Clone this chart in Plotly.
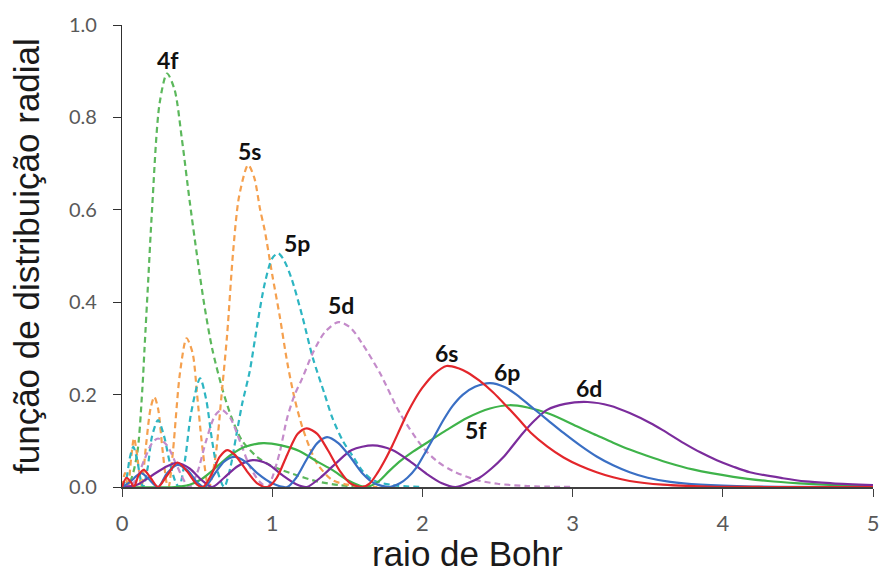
import plotly.graph_objects as go

# ---- data (x in Bohr radii, y = radial distribution) ----
x_4f = [0, 0.05, 0.1, 0.135, 0.15, 0.175, 0.2, 0.25, 0.3, 0.35, 0.4, 0.45, 0.5, 0.55, 0.6, 0.67, 0.73, 0.8, 0.9, 1.0, 1.14, 1.3, 1.45, 1.6]
y_4f = [0, 0.01, 0.07, 0.21, 0.3, 0.45, 0.6, 0.83, 0.895, 0.86, 0.75, 0.62, 0.5, 0.39, 0.3, 0.21, 0.15, 0.1, 0.065, 0.045, 0.028, 0.012, 0.004, 0.001]

x_5s = [0, 0.02, 0.04, 0.06, 0.08, 0.1, 0.125, 0.13, 0.16, 0.19, 0.215, 0.24, 0.27, 0.3, 0.31, 0.34, 0.386, 0.43, 0.47, 0.5, 0.53, 0.57, 0.58, 0.62, 0.666, 0.7, 0.74, 0.78, 0.84, 0.88, 0.92, 0.95, 1.0, 1.05, 1.1, 1.15, 1.2, 1.25, 1.3, 1.4, 1.5, 1.7]
y_5s = [0, 0.03, 0.0, 0.06, 0.106, 0.07, 0.005, 0, 0.09, 0.17, 0.195, 0.17, 0.08, 0.005, 0, 0.08, 0.247, 0.322, 0.29, 0.2, 0.1, 0.005, 0, 0.06, 0.21, 0.33, 0.51, 0.63, 0.697, 0.67, 0.6, 0.556, 0.46, 0.37, 0.27, 0.19, 0.13, 0.085, 0.05, 0.015, 0.005, 0]

x_5p = [0, 0.03, 0.05, 0.075, 0.1, 0.125, 0.14, 0.17, 0.2, 0.24, 0.28, 0.32, 0.36, 0.38, 0.42, 0.46, 0.52, 0.56, 0.6, 0.64, 0.68, 0.72, 0.76, 0.8, 0.85, 0.9, 0.95, 1.0, 1.04, 1.08, 1.13, 1.2, 1.27, 1.35, 1.4, 1.47, 1.54, 1.6, 1.67, 1.8, 2.0]
y_5p = [0, 0.02, 0.06, 0.087, 0.06, 0.015, 0, 0.04, 0.11, 0.145, 0.11, 0.05, 0.008, 0, 0.06, 0.16, 0.235, 0.19, 0.1, 0.03, 0, 0.04, 0.11, 0.18, 0.25, 0.35, 0.44, 0.495, 0.506, 0.49, 0.45, 0.37, 0.28, 0.2, 0.15, 0.1, 0.065, 0.035, 0.015, 0.004, 0]

x_5d = [0, 0.08, 0.15, 0.2, 0.24, 0.3, 0.36, 0.42, 0.45, 0.5, 0.56, 0.62, 0.665, 0.72, 0.79, 0.85, 0.92, 0.97, 1.0, 1.05, 1.1, 1.15, 1.2, 1.27, 1.35, 1.44, 1.52, 1.6, 1.72, 1.85, 2.0, 2.1, 2.2, 2.35, 2.5, 2.7, 3.0]
y_5d = [0, 0.01, 0.06, 0.095, 0.105, 0.09, 0.05, 0.01, 0, 0.03, 0.1, 0.155, 0.167, 0.15, 0.095, 0.045, 0.01, 0, 0.02, 0.075, 0.15, 0.2, 0.235, 0.29, 0.335, 0.357, 0.345, 0.31, 0.245, 0.16, 0.087, 0.055, 0.035, 0.016, 0.007, 0.002, 0]

x_6s = [0, 0.03, 0.06, 0.08, 0.11, 0.145, 0.19, 0.24, 0.3, 0.37, 0.43, 0.5, 0.54, 0.6, 0.65, 0.7, 0.75, 0.83, 0.9, 0.97, 1.03, 1.1, 1.17, 1.23, 1.3, 1.37, 1.45, 1.52, 1.6, 1.65, 1.7, 1.75, 1.8, 1.85, 1.9, 1.95, 2.0, 2.08, 2.16, 2.24, 2.3, 2.38, 2.47, 2.56, 2.64, 2.72, 2.83, 2.94, 3.05, 3.16, 3.27, 3.38, 3.6, 3.9, 4.3, 5.0]
y_6s = [0, 0.02, 0.01, 0, 0.025, 0.037, 0.02, 0, 0.025, 0.053, 0.035, 0.005, 0, 0.03, 0.065, 0.08, 0.07, 0.035, 0.008, 0, 0.02, 0.07, 0.115, 0.127, 0.115, 0.08, 0.035, 0.008, 0, 0.008, 0.03, 0.058, 0.09, 0.125, 0.16, 0.19, 0.215, 0.245, 0.262, 0.257, 0.248, 0.23, 0.205, 0.175, 0.147, 0.118, 0.088, 0.064, 0.046, 0.032, 0.021, 0.013, 0.005, 0.001, 0, 0]

x_6p = [0, 0.05, 0.1, 0.13, 0.17, 0.24, 0.3, 0.37, 0.44, 0.5, 0.55, 0.62, 0.68, 0.75, 0.82, 0.9, 1.0, 1.1, 1.16, 1.23, 1.3, 1.365, 1.44, 1.52, 1.6, 1.68, 1.78, 1.85, 1.9, 1.96, 2.02, 2.08, 2.14, 2.2, 2.27, 2.35, 2.45, 2.55, 2.63, 2.72, 2.83, 2.94, 3.05, 3.16, 3.27, 3.38, 3.5, 3.65, 3.85, 4.2, 5.0]
y_6p = [0, 0.01, 0.025, 0.03, 0.02, 0, 0.03, 0.048, 0.035, 0.01, 0, 0.03, 0.055, 0.065, 0.055, 0.03, 0.008, 0, 0.02, 0.06, 0.095, 0.108, 0.095, 0.065, 0.03, 0.008, 0, 0.008, 0.02, 0.042, 0.075, 0.11, 0.145, 0.175, 0.2, 0.217, 0.225, 0.216, 0.199, 0.175, 0.146, 0.117, 0.09, 0.066, 0.047, 0.032, 0.02, 0.011, 0.005, 0.001, 0]

x_5f = [0, 0.35, 0.45, 0.52, 0.6, 0.67, 0.74, 0.82, 0.94, 1.06, 1.18, 1.3, 1.4, 1.5, 1.58, 1.62, 1.7, 1.78, 1.86, 1.94, 2.05, 2.16, 2.3, 2.45, 2.58, 2.7, 2.83, 2.94, 3.05, 3.16, 3.27, 3.38, 3.49, 3.63, 3.8, 4.07, 4.3, 4.51, 4.75, 5.0]
y_5f = [0, 0, 0.005, 0.015, 0.035, 0.055, 0.073, 0.087, 0.095, 0.09, 0.078, 0.055, 0.037, 0.015, 0.003, 0, 0.01, 0.035, 0.058, 0.077, 0.1, 0.123, 0.15, 0.17, 0.177, 0.172, 0.16, 0.145, 0.128, 0.112, 0.096, 0.081, 0.068, 0.053, 0.038, 0.022, 0.013, 0.008, 0.004, 0.002]

x_6d = [0, 0.1, 0.2, 0.3, 0.37, 0.45, 0.53, 0.6, 0.68, 0.77, 0.87, 0.97, 1.07, 1.16, 1.23, 1.32, 1.42, 1.53, 1.67, 1.8, 1.92, 2.03, 2.13, 2.22, 2.3, 2.38, 2.46, 2.54, 2.67, 2.75, 2.83, 2.95, 3.1, 3.25, 3.38, 3.52, 3.6, 3.74, 3.85, 3.96, 4.07, 4.18, 4.4, 4.55, 4.73, 5.0]
y_6d = [0, 0.005, 0.025, 0.045, 0.052, 0.04, 0.015, 0, 0.02, 0.045, 0.058, 0.05, 0.025, 0.006, 0, 0.02, 0.05, 0.08, 0.09, 0.08, 0.055, 0.028, 0.008, 0, 0.008, 0.02, 0.04, 0.065, 0.117, 0.145, 0.167, 0.18, 0.184, 0.176, 0.16, 0.138, 0.123, 0.095, 0.075, 0.058, 0.044, 0.032, 0.019, 0.012, 0.008, 0.004]

labels = ["4f", "5s", "5p", "5d", "6s", "6p", "6d", "5f"]
label_x = [0.306, 0.852, 1.165, 1.46, 2.16, 2.56, 3.11, 2.36]
label_y = [0.924, 0.727, 0.528, 0.395, 0.29, 0.248, 0.215, 0.123]

x_ticks = [0, 1, 2, 3, 4, 5]
y_ticks = [0.0, 0.2, 0.4, 0.6, 0.8, 1.0]

series = [
    ("4f", x_4f, y_4f, "#5cb85c", "dash"),
    ("5s", x_5s, y_5s, "#f5a04e", "dash"),
    ("5p", x_5p, y_5p, "#2db5c2", "dash"),
    ("5d", x_5d, y_5d, "#c48bca", "dash"),
    ("5f", x_5f, y_5f, "#3fb34a", "solid"),
    ("6d", x_6d, y_6d, "#7b2c9c", "solid"),
    ("6p", x_6p, y_6p, "#3a6fc4", "solid"),
    ("6s", x_6s, y_6s, "#e3262b", "solid"),
]

fig = go.Figure()
for name, xs, ys, col, dash in series:
    fig.add_trace(go.Scatter(
        x=xs, y=ys, mode="lines", name=name,
        line=dict(color=col, width=2.2, dash=("6px,4px" if dash == "dash" else "solid"),
                  shape="spline", smoothing=0.8),
        hoverinfo="skip",
    ))

for t, lx, ly in zip(labels, label_x, label_y):
    fig.add_annotation(x=lx, y=ly, text="<b>" + t + "</b>", showarrow=False,
                       font=dict(family="Lato", size=23, color="#111111"),
                       xanchor="center", yanchor="middle")

fig.add_annotation(xref="paper", yref="paper", x=(467 - 122) / 751, y=-(553 - 487) / 462,
                   text="raio de Bohr", showarrow=False, xanchor="center", yanchor="middle",
                   font=dict(family="Liberation Sans", size=35, color="#1a1a1a"))
fig.add_annotation(xref="paper", yref="paper", x=-(122 - 26) / 751, y=(487 - 256) / 462,
                   text="função de distribuição radial", showarrow=False, textangle=-90,
                   xanchor="center", yanchor="middle",
                   font=dict(family="Liberation Sans", size=35, color="#1a1a1a"))

fig.update_layout(
    width=880, height=576,
    margin=dict(l=122, r=7, t=25, b=89),
    paper_bgcolor="white", plot_bgcolor="white",
    showlegend=False,
)
fig.update_xaxes(range=[0, 5], tickvals=x_ticks, ticktext=[str(v) for v in x_ticks],
                 automargin=False,
                 showgrid=False, zeroline=False, showline=True, linecolor="#404040", linewidth=1.5,
                 ticks="outside", ticklen=8, tickcolor="#404040", tickwidth=1.2,
                 tickfont=dict(family="Lato", size=22, color="#595959"), ticklabelstandoff=8)
fig.update_yaxes(range=[0, 1.0], tickvals=y_ticks, ticktext=["%.1f" % v for v in y_ticks],
                 automargin=False,
                 showgrid=False, zeroline=False, showline=True, linecolor="#303030", linewidth=1.3,
                 ticks="outside", ticklen=8, tickcolor="#303030", tickwidth=1.2,
                 tickfont=dict(family="Lato", size=20, color="#595959"), ticklabelstandoff=12)

fig.write_html("out.html")
